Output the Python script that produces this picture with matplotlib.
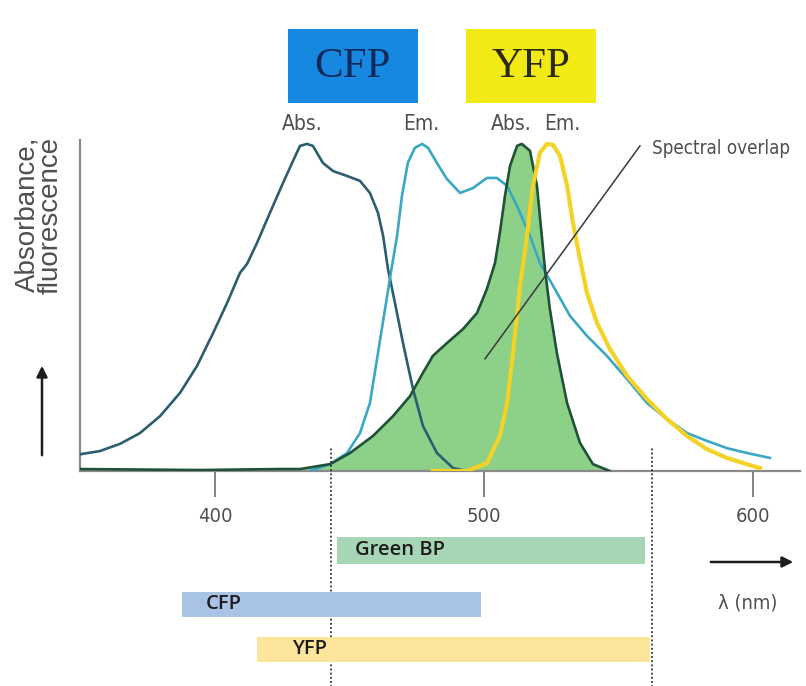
import matplotlib.pyplot as plt
from matplotlib import font_manager
from matplotlib.patches import Rectangle

# spectra: wavelength (nm) and normalised intensity
cfp_abs_nm = [349.8, 357.2, 364.7, 372.1, 379.6, 387.0, 393.3, 399.3, 404.5, 409.3, 411.9,
              415.6, 420.4, 425.3, 429.0, 431.6, 434.2, 436.4, 440.1, 443.9, 449.1, 453.9,
              457.6, 460.6, 462.5, 464.3, 466.9, 469.9, 473.6, 477.3, 482.5, 488.5, 493.7]
cfp_abs = [0.051, 0.061, 0.083, 0.116, 0.168, 0.239, 0.321, 0.422, 0.514, 0.606, 0.633,
           0.697, 0.789, 0.881, 0.948, 0.994, 1.0, 0.994, 0.942, 0.917, 0.902, 0.887,
           0.850, 0.789, 0.719, 0.618, 0.514, 0.391, 0.251, 0.138, 0.055, 0.009, 0.0]

cfp_em_nm = [435.3, 442.8, 449.1, 453.9, 457.6, 460.6, 463.2, 465.8, 467.7, 469.5, 471.7,
             474.3, 477.0, 479.2, 482.5, 486.2, 491.1, 495.9, 501.1, 504.8, 508.6, 512.3,
             517.1, 520.8, 525.7, 532.0, 538.3, 545.7, 553.2, 560.6, 568.0, 575.5, 582.9,
             590.3, 597.8, 606.3]
cfp_em = [0.0, 0.021, 0.055, 0.116, 0.208, 0.361, 0.495, 0.627, 0.719, 0.841, 0.942,
          0.988, 1.0, 0.988, 0.942, 0.893, 0.850, 0.865, 0.896, 0.896, 0.872, 0.810,
          0.719, 0.636, 0.566, 0.474, 0.413, 0.352, 0.281, 0.208, 0.159, 0.116, 0.092,
          0.070, 0.055, 0.040]

yfp_abs_nm = [349.8, 394.4, 424.2, 431.6, 442.8, 450.2, 458.7, 466.2, 472.5, 477.3, 481.0,
              486.2, 492.2, 497.4, 501.1, 504.1, 505.9, 507.8, 509.7, 512.3, 514.1, 517.1,
              519.7, 521.6, 522.7, 524.5, 527.1, 530.9, 535.7, 540.5, 546.8]
yfp_abs = [0.006, 0.003, 0.006, 0.006, 0.021, 0.055, 0.107, 0.168, 0.229, 0.300, 0.352,
           0.391, 0.434, 0.483, 0.557, 0.636, 0.728, 0.841, 0.933, 0.994, 1.0, 0.979,
           0.872, 0.710, 0.615, 0.495, 0.361, 0.208, 0.086, 0.021, 0.0]

yfp_em_nm = [481.0, 493.7, 501.1, 505.9, 508.6, 510.8, 513.4, 516.0, 518.2, 520.8, 523.4,
             525.7, 528.3, 530.9, 533.1, 535.7, 538.3, 542.0, 546.8, 553.2, 560.6, 568.0,
             575.5, 582.9, 590.3, 600.0, 602.6]
yfp_em = [0.0, 0.0, 0.024, 0.107, 0.208, 0.361, 0.566, 0.719, 0.872, 0.973, 1.0,
          0.997, 0.963, 0.872, 0.758, 0.648, 0.544, 0.453, 0.373, 0.291, 0.220, 0.159,
          0.107, 0.067, 0.040, 0.015, 0.009]

# filter / detection bands (nm)
bands = ['Green BP', 'CFP', 'YFP']
band_start = [445.4, 387.7, 415.6]
band_end = [559.9, 498.9, 561.7]
band_colors = ['#a6d6b5', '#a9c3e7', '#fde59b']
band_edges = [443.1, 562.5]   # dotted lines

xticks = [400, 500, 600]

# a condensed sans if one is installed, else plain Liberation Sans
fonts = font_manager.fontManager.ttflist
cond = [f for f in fonts if f.name == 'Liberation Sans Narrow'
        or (f.name == 'DejaVu Sans' and f.stretch == 'condensed' and f.weight == 400
            and f.style == 'normal')]
if cond:
    nfont = dict(family=cond[0].name, stretch=cond[0].stretch)
    scale = 1.0
else:
    nfont = dict(family='Liberation Sans')
    scale = 0.9
grey = '#4f4f4f'

W, H = 806, 686
fig = plt.figure(figsize=(W / 100, H / 100), dpi=100)


def fx(px):
    return px / W


def fy(py):
    return 1 - py / H


# main spectrum axes
ax = fig.add_axes([fx(80), fy(471), fx(800) - fx(80), fy(140) - fy(471)])
ax.set_xlim(349.8, 617.5)
ax.set_ylim(0, 1.012)

ax.fill_between(yfp_abs_nm, yfp_abs, color='#8dd087', zorder=1, lw=0)
ax.plot(cfp_abs_nm, cfp_abs, color='#2c5e6f', lw=1.9, zorder=3)
ax.plot(cfp_em_nm, cfp_em, color='#3aa8c4', lw=1.9, zorder=3)
ax.plot(yfp_abs_nm, yfp_abs, color='#1f5238', lw=1.9, zorder=4)
ax.plot(yfp_em_nm, yfp_em, color='#f4d226', lw=3.0, zorder=5)

# spectral overlap pointer
ax.plot([500.4, 558.0], [0.343, 0.994], color='#3a3a3a', lw=1.1, zorder=6, clip_on=False)

for s in ['top', 'right']:
    ax.spines[s].set_visible(False)
for s in ['left', 'bottom']:
    ax.spines[s].set_color('#8a8a8a')
    ax.spines[s].set_linewidth(1.6)
ax.set_yticks([])
ax.set_xticks(xticks)
ax.tick_params(axis='x', length=19, width=1.3, color='#7a7a7a', pad=7,
               labelcolor=grey)
for lab in ax.get_xticklabels():
    lab.set_fontproperties(font_manager.FontProperties(size=14.5 * scale, **nfont))

# dotted band edges running down through the band panel
ax.vlines(band_edges, -0.66, 0.07, colors='#333333', linestyles=(0, (1, 1.3)),
          lw=1.3, clip_on=False, zorder=7)

# band panel below the axis
axb = fig.add_axes([fx(80), 0, fx(800) - fx(80), fy(471)], sharex=ax)
axb.set_ylim(215, 0)
axb.axis('off')
rows = [79, 133, 178]
heights = [27, 25, 25]
widths = [e - s for s, e in zip(band_start, band_end)]
axb.barh(rows, widths, left=band_start, height=heights, color=band_colors, zorder=1)
lab_font = dict(family='Open Sans', weight='semibold', size=14.5, color='#1c1c1c')
axb.text(band_start[0] + 6.5, rows[0], bands[0], ha='left', va='center', **lab_font)
axb.text(band_start[1] + 9, rows[1], bands[1], ha='left', va='center', **lab_font)
axb.text(band_edges[0] - 1.5, rows[2], bands[2], ha='right', va='center', **lab_font)

# overlay in pixel units for headers, labels and arrows
ov = fig.add_axes([0, 0, 1, 1])
ov.set_xlim(0, W)
ov.set_ylim(H, 0)
ov.axis('off')

ov.add_patch(Rectangle((288, 29), 130, 74, color='#1788df', lw=0))
ov.add_patch(Rectangle((466, 29), 130, 74, color='#f1ea14', lw=0))
ov.text(352, 67, 'CFP', family='Liberation Serif', size=31, color='#10295a',
        ha='center', va='center')
ov.text(531, 67, 'YFP', family='Liberation Serif', size=31, color='#2a2a16',
        ha='center', va='center')

for x, t in [(302, 'Abs.'), (421, 'Em.'), (511, 'Abs.'), (562, 'Em.')]:
    ov.text(x, 124, t, size=15 * scale, color=grey, ha='center', va='center', **nfont)

ov.text(652, 148, 'Spectral overlap', size=13.5 * scale, color=grey,
        ha='left', va='center', **nfont)

ov.text(39, 215, 'Absorbance,\nfluorescence', family='Liberation Sans', size=20,
        color=grey, rotation=90, ha='center', va='center', multialignment='right',
        linespacing=0.9)

ov.annotate('', xy=(42, 363), xytext=(42, 458),
            arrowprops=dict(arrowstyle='-|>', color='#1e1e1e', lw=1.8, mutation_scale=16))
ov.annotate('', xy=(796, 562), xytext=(708, 562),
            arrowprops=dict(arrowstyle='-|>', color='#1e1e1e', lw=1.8, mutation_scale=16))
ov.text(748, 603, 'λ (nm)', size=14.5 * scale, color=grey, ha='center', va='center',
        **nfont)

fig.savefig('out.png', dpi=100, facecolor='white')
